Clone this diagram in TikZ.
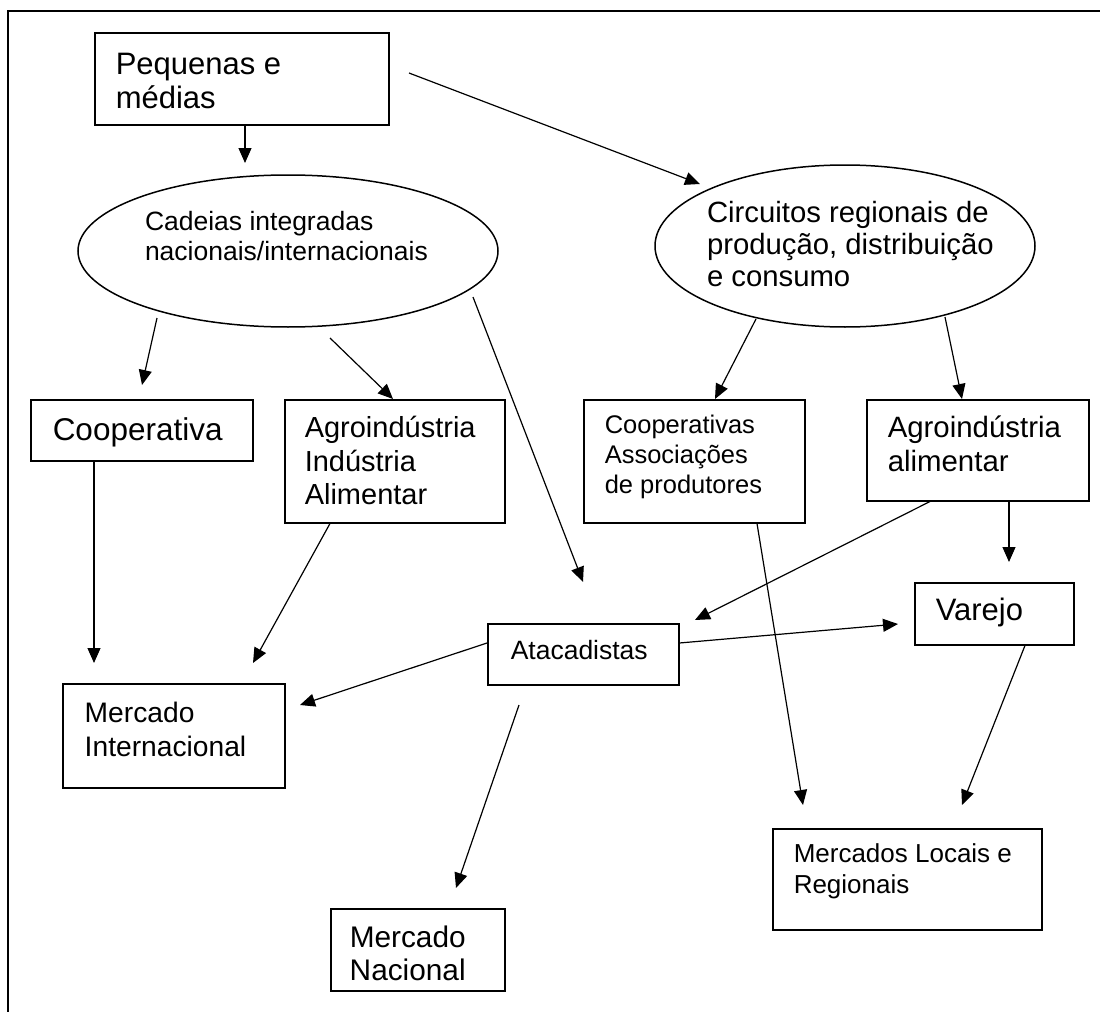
\documentclass[tikz,border=0pt]{standalone}
\usepackage{fontspec}
\setmainfont{Liberation Sans}
\usetikzlibrary{arrows.meta,calc,shapes.geometric}
% box text: #1 width, #2 height, #3 left pad, #4 first baseline from top, #5 size, #6 skip, #7 text
\newcommand\bt[7]{\vbox to #2{\hsize=#1\relax\fontsize{#5}{#6}\selectfont\parindent=0pt\parskip=0pt\leftskip=#3\relax\rightskip=-60pt plus 1fil\relax\hbox{}\vskip\dimexpr#4-#6\relax #7\par\vfil}}
% ellipse text: #1 x offset of text left from centre, #2 first baseline above centre, #3 size, #4 skip, #5 text
\newcommand\ot[5]{\makebox[0pt][l]{\hspace*{#1}\smash{\raisebox{#2}{\parbox[t]{300pt}{\fontsize{#3}{#4}\selectfont\raggedright #5}}}}}
\tikzset{
  bx/.style={draw, rectangle, line width=0.75pt, inner sep=0pt, anchor=north west},
  ov/.style={draw, ellipse, line width=0.75pt, inner sep=0pt},
  arr/.style={-{Triangle[length=7.5pt,width=6.5pt]}, line width=0.6pt},
  frame/.style={line width=1pt}
}
\begin{document}
\begin{tikzpicture}[x=0.5pt,y=-0.5pt]
\useasboundingbox (0,0) rectangle (1100,1012);
\coordinate (fb) at (8,1012);
\coordinate (ftl) at (8,11);
\coordinate (ftr) at (1100,11);
\draw[frame] (fb) -- (ftl) -- (ftr);

% nodes
\node[bx] (pm) at (94,32) {\bt{147pt}{46pt}{10.5pt}{21pt}{15.5pt}{17pt}{Pequenas e\newline médias}};
\node[ov, minimum width=210pt, minimum height=76pt] (cad) at (288,251)
  {\ot{-71.5pt}{10.5pt}{13.25pt}{15pt}{Cadeias integradas\newline nacionais/internacionais}};
\node[ov, minimum width=190pt, minimum height=81pt] (circ) at (845,246)
  {\ot{-69pt}{12pt}{14.65pt}{16.25pt}{Circuitos regionais de\newline produção, distribuição\newline e consumo}};
\node[bx] (coop) at (30,399) {\bt{111pt}{30.5pt}{11pt}{20.5pt}{15.75pt}{18pt}{Cooperativa}};
\node[bx] (agro) at (284,399) {\bt{110pt}{61.5pt}{10pt}{19pt}{14.5pt}{16.75pt}{Agroindústria\newline Indústria\newline Alimentar}};
\node[bx] (coopas) at (583,399) {\bt{110.5pt}{61.5pt}{10.5pt}{17pt}{12.75pt}{15pt}{Cooperativas\newline Associações\newline de produtores}};
\node[bx] (agroal) at (866,399) {\bt{111pt}{50.5pt}{10.5pt}{19pt}{14.7pt}{17pt}{Agroindústria\newline alimentar}};
\node[bx] (atac) at (487,623) {\bt{95.5pt}{30.5pt}{11.5pt}{18pt}{13.25pt}{15.5pt}{Atacadistas}};
\node[bx] (varejo) at (914,582) {\bt{79.5pt}{31pt}{10.5pt}{19pt}{15.5pt}{17.5pt}{Varejo}};
\node[bx] (mi) at (62,683) {\bt{111pt}{52pt}{11pt}{19.5pt}{14.1pt}{17pt}{Mercado\newline Internacional}};
\node[bx] (mn) at (330,908) {\bt{87pt}{41pt}{9.5pt}{19.5pt}{14.9pt}{16.5pt}{Mercado\newline Nacional}};
\node[bx] (ml) at (772,828) {\bt{134.5pt}{50.5pt}{10.5pt}{17pt}{13pt}{15.5pt}{Mercados Locais e\newline Regionais}};

% free connector ends
\coordinate (c1) at (245,163);
\coordinate (s2) at (409,73);
\coordinate (c2) at (700,184);
\coordinate (s3) at (157,318);
\coordinate (c3) at (142,385);
\coordinate (s4) at (330,338);
\coordinate (s5) at (473,297);
\coordinate (c5) at (583,582);
\coordinate (s6) at (756,319);
\coordinate (s7) at (945,317);
\coordinate (c8) at (94,663);
\coordinate (c9) at (253,663);
\coordinate (c10) at (1009,562);
\coordinate (c11) at (695,620);
\coordinate (c12) at (300,705);
\coordinate (c13) at (898,624);
\coordinate (s14) at (519,705);
\coordinate (c14) at (456,888);
\coordinate (c15) at (803,805);
\coordinate (c16) at (962,805);

% connectors
\draw[arr] ($(pm.south west)+(151,0)$) -- (c1);
\draw[arr] (s2) -- (c2);
\draw[arr] (s3) -- (c3);
\draw[arr] (s4) -- ($(agro.north west)+(109,0)$);
\draw[arr] (s5) -- (c5);
\draw[arr] (s6) -- ($(coopas.north west)+(132,0)$);
\draw[arr] (s7) -- ($(agroal.north west)+(96,0)$);
\draw[arr] ($(coop.south west)+(64,0)$) -- (c8);
\draw[arr] ($(agro.south west)+(46,0)$) -- (c9);
\draw[arr] ($(agroal.south west)+(143,0)$) -- (c10);
\draw[arr] ($(agroal.south west)+(64,0)$) -- (c11);
\draw[arr] ($(atac.north west)+(0,20)$) -- (c12);
\draw[arr] ($(atac.north east)+(0,20)$) -- (c13);
\draw[arr] (s14) -- (c14);
\draw[arr] ($(coopas.south west)+(174,0)$) -- (c15);
\draw[arr] ($(varejo.south west)+(111,0)$) -- (c16);
\end{tikzpicture}
\end{document}
